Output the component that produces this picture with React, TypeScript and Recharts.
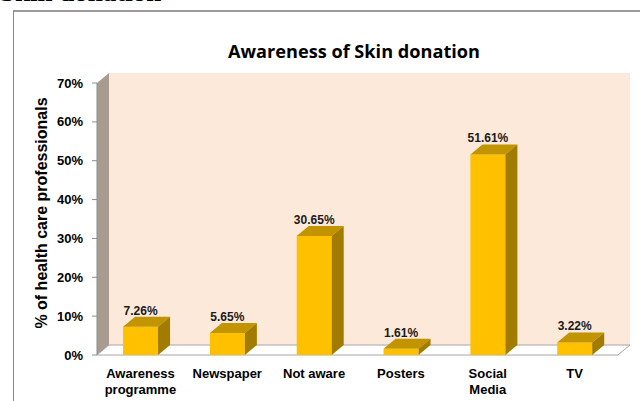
import React from "react";
import { BarChart, Bar, XAxis, YAxis, ReferenceArea, LabelList } from "recharts";

const categories = ["Awareness programme", "Newspaper", "Not aware", "Posters", "Social Media", "TV"];
const tickLines: string[][] = [["Awareness", "programme"], ["Newspaper"], ["Not aware"], ["Posters"], ["Social", "Media"], ["TV"]];
const percentValues = [7.26, 5.65, 30.65, 1.61, 51.61, 3.22];
const yTicks = [0, 10, 20, 30, 40, 50, 60, 70];

const data = categories.map((name, i) => ({ name, value: percentValues[i], lines: tickLines[i] }));

const DX = 12;
const DY = 10;
const FONT = "'Liberation Sans', Arial, sans-serif";

const Bar3D = (props: any) => {
  const { x, y, width, height } = props;
  if (width == null || height == null) return null;
  return (
    <g>
      <rect x={x} y={y} width={width} height={height} fill="#FFC000" />
      <polygon
        points={`${x},${y} ${x + DX},${y - DY} ${x + width + DX},${y - DY} ${x + width},${y}`}
        fill="#C29400"
      />
      <polygon
        points={`${x + width},${y} ${x + width + DX},${y - DY} ${x + width + DX},${y + height - DY} ${x + width},${y + height}`}
        fill="#A27C00"
      />
    </g>
  );
};

const Walls = (props: any) => {
  const { x, y, width, height } = props;
  const b = y + height;
  const r = x + width;
  return (
    <g>
      <rect x={x + DX} y={y - DY} width={width} height={height} fill="#FDE9D9" />
      <polygon points={`${x},${y} ${x + DX},${y - DY} ${x + DX},${b - DY} ${x},${b}`} fill="#A89B90" />
      <polygon
        points={`${x},${b} ${x + DX},${b - DY} ${r + DX},${b - DY} ${r},${b}`}
        fill="#FFFFFF"
        stroke="#A6A6A6"
        strokeWidth={1}
      />
    </g>
  );
};

const XTick = (props: any) => {
  const { x, y, payload, index } = props;
  const lines = tickLines[index] ?? [payload.value];
  return (
    <text x={x} y={y} textAnchor="middle" fontFamily={FONT} fontSize={13} fontWeight="bold" fill="#000">
      {lines.map((l: string, i: number) => (
        <tspan key={i} x={x} dy={i === 0 ? 23 : 15.5}>
          {l}
        </tspan>
      ))}
    </text>
  );
};

const ValueLabel = (props: any) => {
  const { x, y, width, value } = props;
  return (
    <text
      x={x + width / 2}
      y={y - DY - 2}
      textAnchor="middle"
      fontFamily={FONT}
      fontSize={12}
      fontWeight="bold"
      fill="#1a1a1a"
    >
      {`${Number(value).toFixed(2)}%`}
    </text>
  );
};

export default function App() {
  return (
    <div style={{ position: "absolute", left: 0, top: 0, width: 640, height: 401, overflow: "hidden", background: "#fff" }}>
      <div
        style={{
          position: "absolute",
          left: 0,
          top: -21,
          fontFamily: "'Liberation Serif', 'Times New Roman', serif",
          fontWeight: "bold",
          fontSize: 27,
          lineHeight: "27px",
          whiteSpace: "nowrap",
          color: "#000",
        }}
      >
        Skin donation
      </div>
      <div
        style={{
          position: "absolute",
          left: 13,
          top: 10,
          width: 800,
          height: 600,
          borderTop: "2px solid #9a9a9a",
          borderLeft: "1px solid #8a8a8a",
        }}
      />
      <div style={{ position: "absolute", left: 0, top: 0 }}>
        <BarChart width={640} height={401} data={data} margin={{ top: 83, right: 22, bottom: 0, left: 37 }} barCategoryGap="30%">
          <XAxis
            dataKey="name"
            axisLine={false}
            tickLine={false}
            tickSize={0}
            tickMargin={0}
            height={46}
            interval={0}
            tick={<XTick />}
          />
          <YAxis
            domain={[0, 70]}
            ticks={yTicks}
            width={60}
            tickSize={5}
            tickMargin={9}
            axisLine={{ stroke: "#8c8c8c" }}
            tickLine={{ stroke: "#8c8c8c" }}
            tickFormatter={(v: number) => `${v}%`}
            tick={{ fontFamily: FONT, fontSize: 13, fontWeight: "bold", fill: "#000" }}
          />
          <ReferenceArea y1={0} y2={70} shape={<Walls />} isFront={false} />
          <Bar dataKey="value" isAnimationActive={false} shape={<Bar3D />}>
            <LabelList dataKey="value" content={<ValueLabel />} />
          </Bar>
        </BarChart>
      </div>
      <svg style={{ position: "absolute", left: 0, top: 0, pointerEvents: "none" }} width={640} height={401}>
        <text
          x={354}
          y={58}
          textAnchor="middle"
          fontFamily="'Open Sans', 'Noto Sans', sans-serif"
          fontWeight="bold"
          fontSize={17}
          textLength={252}
          lengthAdjust="spacingAndGlyphs"
          fill="#000"
        >
          Awareness of Skin donation
        </text>
        <text
          transform="translate(41,213) rotate(-90)"
          textAnchor="middle"
          dominantBaseline="central"
          fontFamily={FONT}
          fontWeight="bold"
          fontSize={16}
          fill="#000"
        >
          % of health care professionals
        </text>
      </svg>
    </div>
  );
}
